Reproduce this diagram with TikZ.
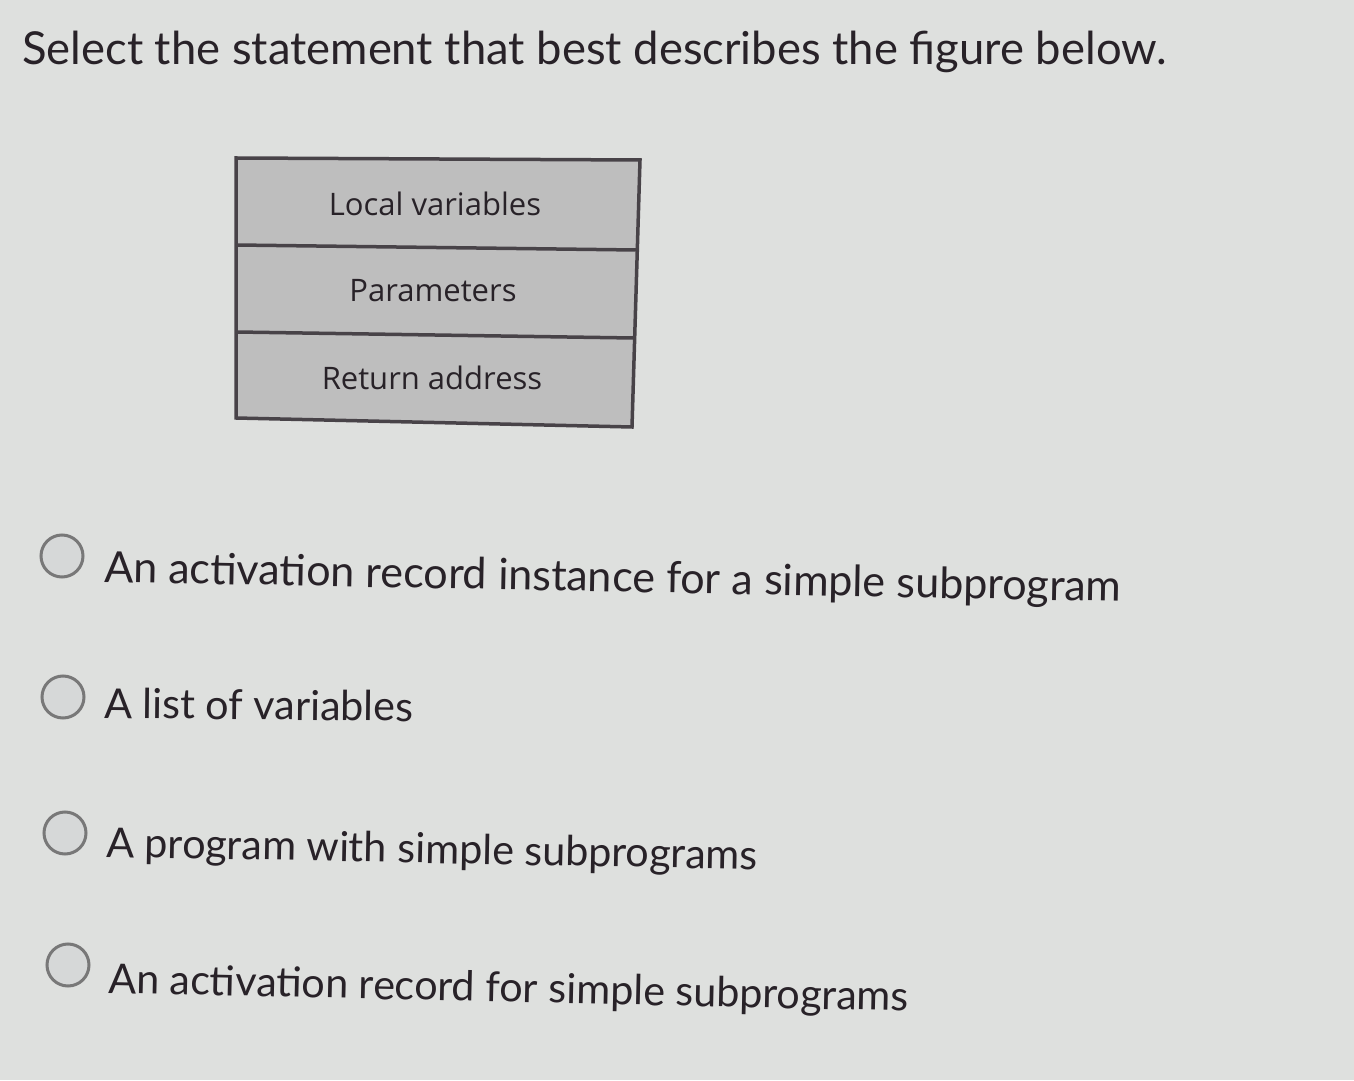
\documentclass[tikz,border=0pt]{standalone}
\usepackage{fontspec}
\setmainfont{Lato}
\newfontfamily\tabfont{Open Sans}
\definecolor{bgc}{RGB}{222,224,222}
\definecolor{cellc}{RGB}{190,190,190}
\definecolor{ink}{RGB}{40,34,40}
\definecolor{radioc}{RGB}{120,120,120}
\definecolor{radiofill}{RGB}{214,216,216}
\begin{document}
\begin{tikzpicture}[x=1pt,y=1pt,
  title/.style={font=\fontsize{45.4}{54}\selectfont, text=ink, anchor=base west, inner sep=0pt},
  opt/.style={font=\fontsize{41.3}{50}\selectfont, text=ink, anchor=base west, inner sep=0pt},
  cell/.style={font=\tabfont\fontsize{31}{37}\selectfont, text=ink, anchor=base, inner sep=0pt},
  radio/.style={circle, draw=radioc, line width=3pt, fill=radiofill, minimum size=42pt, inner sep=0pt},
  rule/.style={draw=ink!85, line width=3.5pt}]
\fill[bgc] (0,0) rectangle (1354,1080);
\useasboundingbox (0,0) rectangle (1354,1080);
% title
\node[title] (t) at (22,1015) {Select the statement that best describes the figure below.};
% table
\coordinate (a1) at (236,922);
\coordinate (a2) at (640,920);
\coordinate (b1) at (236,835);
\coordinate (b2) at (636,830);
\coordinate (c1) at (236,748);
\coordinate (c2) at (633,742);
\coordinate (d1) at (236,662);
\coordinate (d2) at (632,653);
\fill[cellc] (a1) -- (a2) -- (d2) -- (d1) -- cycle;
\draw[rule] (a1) -- (a2) -- (d2) -- (d1) -- cycle;
\draw[rule] (b1) -- (b2);
\draw[rule] (c1) -- (c2);
\node[cell] (lv) at (435,864) {Local variables};
\node[cell] (pa) at (433,778) {Parameters};
\node[cell] (ra) at (432,690) {Return address};
% options
\node[radio] (r1) at (62,524) {};
\node[opt, font=\fontsize{43.1}{52}\selectfont, rotate=-1.1] (o1) at (104,498) {An activation record instance for a simple subprogram};
\node[radio] (r2) at (63,383) {};
\node[opt, rotate=-0.6] (o2) at (104,362) {A list of variables};
\node[radio] (r3) at (65,247) {};
\node[opt, rotate=-1.1] (o3) at (106,223) {A program with simple subprograms};
\node[radio] (r4) at (68,115) {};
\node[opt, rotate=-1.3] (o4) at (108,87) {An activation record for simple subprograms};
\end{tikzpicture}
\end{document}
